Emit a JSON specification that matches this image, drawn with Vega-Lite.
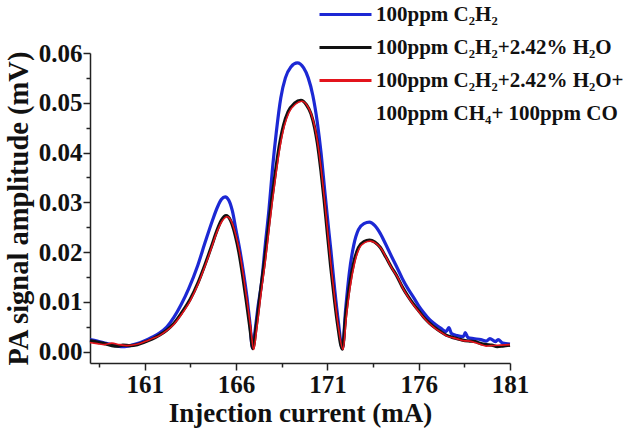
{
  "$schema": "https://vega.github.io/schema/vega-lite/v6.json",
  "width": 420,
  "height": 310,
  "autosize": {"type": "none"},
  "padding": {"left": 90, "top": 53, "right": 113, "bottom": 71},
  "background": "white",
  "config": {"view": {"stroke": null}},
  "data": {"values": [
    {"I":158.0,"v":0.0024,"s":"a"},{"I":158.4,"v":0.0021,"s":"a"},{"I":158.8,"v":0.0017,"s":"a"},{"I":159.2,"v":0.0014,"s":"a"},{"I":159.5,"v":0.0011,"s":"a"},{"I":159.9,"v":0.0010,"s":"a"},{"I":160.2,"v":0.0012,"s":"a"},{"I":160.5,"v":0.0015,"s":"a"},{"I":161.0,"v":0.0022,"s":"a"},{"I":161.4,"v":0.0029,"s":"a"},{"I":161.8,"v":0.0037,"s":"a"},{"I":162.2,"v":0.0049,"s":"a"},{"I":162.6,"v":0.0069,"s":"a"},{"I":163.0,"v":0.0095,"s":"a"},{"I":163.4,"v":0.0126,"s":"a"},{"I":163.9,"v":0.0173,"s":"a"},{"I":164.3,"v":0.0219,"s":"a"},{"I":164.7,"v":0.0263,"s":"a"},{"I":165.0,"v":0.0292,"s":"a"},{"I":165.2,"v":0.0306,"s":"a"},{"I":165.4,"v":0.0311,"s":"a"},{"I":165.6,"v":0.0304,"s":"a"},{"I":165.8,"v":0.0282,"s":"a"},{"I":166.0,"v":0.0243,"s":"a"},{"I":166.2,"v":0.0205,"s":"a"},{"I":166.4,"v":0.0160,"s":"a"},{"I":166.6,"v":0.0108,"s":"a"},{"I":166.75,"v":0.0060,"s":"a"},{"I":166.9,"v":0.0007,"s":"a"},{"I":167.05,"v":0.0045,"s":"a"},{"I":167.2,"v":0.0090,"s":"a"},{"I":167.4,"v":0.0140,"s":"a"},{"I":167.6,"v":0.0215,"s":"a"},{"I":167.8,"v":0.0285,"s":"a"},{"I":168.0,"v":0.0370,"s":"a"},{"I":168.2,"v":0.0440,"s":"a"},{"I":168.45,"v":0.0510,"s":"a"},{"I":168.7,"v":0.0550,"s":"a"},{"I":169.0,"v":0.0572,"s":"a"},{"I":169.35,"v":0.0580,"s":"a"},{"I":169.7,"v":0.0570,"s":"a"},{"I":169.95,"v":0.0550,"s":"a"},{"I":170.2,"v":0.0515,"s":"a"},{"I":170.45,"v":0.0460,"s":"a"},{"I":170.65,"v":0.0400,"s":"a"},{"I":170.85,"v":0.0325,"s":"a"},{"I":171.0,"v":0.0270,"s":"a"},{"I":171.2,"v":0.0200,"s":"a"},{"I":171.4,"v":0.0125,"s":"a"},{"I":171.6,"v":0.0060,"s":"a"},{"I":171.82,"v":0.0006,"s":"a"},{"I":172.0,"v":0.0085,"s":"a"},{"I":172.2,"v":0.0158,"s":"a"},{"I":172.45,"v":0.0215,"s":"a"},{"I":172.7,"v":0.0245,"s":"a"},{"I":173.0,"v":0.0257,"s":"a"},{"I":173.3,"v":0.0260,"s":"a"},{"I":173.6,"v":0.0253,"s":"a"},{"I":173.9,"v":0.0237,"s":"a"},{"I":174.2,"v":0.0215,"s":"a"},{"I":174.5,"v":0.0192,"s":"a"},{"I":174.8,"v":0.0170,"s":"a"},{"I":175.1,"v":0.0147,"s":"a"},{"I":175.4,"v":0.0127,"s":"a"},{"I":175.7,"v":0.0110,"s":"a"},{"I":176.0,"v":0.0092,"s":"a"},{"I":176.3,"v":0.0077,"s":"a"},{"I":176.6,"v":0.0064,"s":"a"},{"I":176.9,"v":0.0055,"s":"a"},{"I":177.2,"v":0.0047,"s":"a"},{"I":177.5,"v":0.0040,"s":"a"},{"I":177.65,"v":0.0048,"s":"a"},{"I":177.8,"v":0.0036,"s":"a"},{"I":178.1,"v":0.0032,"s":"a"},{"I":178.45,"v":0.0030,"s":"a"},{"I":178.55,"v":0.0038,"s":"a"},{"I":178.7,"v":0.0028,"s":"a"},{"I":179.0,"v":0.0026,"s":"a"},{"I":179.4,"v":0.0024,"s":"a"},{"I":179.7,"v":0.0021,"s":"a"},{"I":179.9,"v":0.0026,"s":"a"},{"I":180.2,"v":0.0020,"s":"a"},{"I":180.35,"v":0.0024,"s":"a"},{"I":180.6,"v":0.0017,"s":"a"},{"I":181.0,"v":0.0015,"s":"a"},

    {"I":158.0,"v":0.0022,"s":"b"},{"I":158.4,"v":0.0019,"s":"b"},{"I":158.8,"v":0.0016,"s":"b"},{"I":159.2,"v":0.0012,"s":"b"},{"I":159.5,"v":0.0011,"s":"b"},{"I":159.8,"v":0.0013,"s":"b"},{"I":160.2,"v":0.0012,"s":"b"},{"I":160.6,"v":0.0014,"s":"b"},{"I":161.0,"v":0.0019,"s":"b"},{"I":161.4,"v":0.0025,"s":"b"},{"I":161.8,"v":0.0033,"s":"b"},{"I":162.2,"v":0.0043,"s":"b"},{"I":162.6,"v":0.0057,"s":"b"},{"I":163.0,"v":0.0077,"s":"b"},{"I":163.5,"v":0.0106,"s":"b"},{"I":163.9,"v":0.0137,"s":"b"},{"I":164.3,"v":0.0175,"s":"b"},{"I":164.65,"v":0.0211,"s":"b"},{"I":164.95,"v":0.0243,"s":"b"},{"I":165.2,"v":0.0264,"s":"b"},{"I":165.45,"v":0.0273,"s":"b"},{"I":165.7,"v":0.0263,"s":"b"},{"I":165.95,"v":0.0234,"s":"b"},{"I":166.15,"v":0.0200,"s":"b"},{"I":166.35,"v":0.0155,"s":"b"},{"I":166.55,"v":0.0104,"s":"b"},{"I":166.75,"v":0.0050,"s":"b"},{"I":166.92,"v":0.0006,"s":"b"},{"I":167.1,"v":0.0050,"s":"b"},{"I":167.35,"v":0.0125,"s":"b"},{"I":167.55,"v":0.0180,"s":"b"},{"I":167.75,"v":0.0243,"s":"b"},{"I":167.95,"v":0.0305,"s":"b"},{"I":168.15,"v":0.0360,"s":"b"},{"I":168.35,"v":0.0410,"s":"b"},{"I":168.6,"v":0.0455,"s":"b"},{"I":168.85,"v":0.0482,"s":"b"},{"I":169.2,"v":0.0499,"s":"b"},{"I":169.55,"v":0.0505,"s":"b"},{"I":169.85,"v":0.0496,"s":"b"},{"I":170.1,"v":0.0478,"s":"b"},{"I":170.3,"v":0.0450,"s":"b"},{"I":170.45,"v":0.0419,"s":"b"},{"I":170.65,"v":0.0362,"s":"b"},{"I":170.82,"v":0.0305,"s":"b"},{"I":171.0,"v":0.0237,"s":"b"},{"I":171.18,"v":0.0171,"s":"b"},{"I":171.4,"v":0.0100,"s":"b"},{"I":171.55,"v":0.0057,"s":"b"},{"I":171.82,"v":0.0005,"s":"b"},{"I":172.0,"v":0.0072,"s":"b"},{"I":172.2,"v":0.0130,"s":"b"},{"I":172.45,"v":0.0180,"s":"b"},{"I":172.7,"v":0.0209,"s":"b"},{"I":173.0,"v":0.0221,"s":"b"},{"I":173.3,"v":0.0224,"s":"b"},{"I":173.6,"v":0.0220,"s":"b"},{"I":173.9,"v":0.0209,"s":"b"},{"I":174.2,"v":0.0190,"s":"b"},{"I":174.5,"v":0.0170,"s":"b"},{"I":174.8,"v":0.0152,"s":"b"},{"I":175.1,"v":0.0130,"s":"b"},{"I":175.4,"v":0.0112,"s":"b"},{"I":175.7,"v":0.0096,"s":"b"},{"I":176.0,"v":0.0082,"s":"b"},{"I":176.3,"v":0.0068,"s":"b"},{"I":176.6,"v":0.0057,"s":"b"},{"I":176.9,"v":0.0048,"s":"b"},{"I":177.2,"v":0.0040,"s":"b"},{"I":177.5,"v":0.0033,"s":"b"},{"I":177.8,"v":0.0029,"s":"b"},{"I":178.1,"v":0.0026,"s":"b"},{"I":178.4,"v":0.0023,"s":"b"},{"I":178.8,"v":0.0021,"s":"b"},{"I":179.1,"v":0.0020,"s":"b"},{"I":179.4,"v":0.0016,"s":"b"},{"I":179.7,"v":0.0014,"s":"b"},{"I":180.0,"v":0.0013,"s":"b"},{"I":180.3,"v":0.0010,"s":"b"},{"I":180.6,"v":0.0011,"s":"b"},{"I":181.0,"v":0.0013,"s":"b"},

    {"I":158.0,"v":0.0018,"s":"c"},{"I":158.4,"v":0.0016,"s":"c"},{"I":158.8,"v":0.0014,"s":"c"},{"I":159.2,"v":0.0017,"s":"c"},{"I":159.6,"v":0.0014,"s":"c"},{"I":160.0,"v":0.0012,"s":"c"},{"I":160.5,"v":0.0014,"s":"c"},{"I":161.0,"v":0.0020,"s":"c"},{"I":161.4,"v":0.0026,"s":"c"},{"I":161.8,"v":0.0032,"s":"c"},{"I":162.2,"v":0.0042,"s":"c"},{"I":162.6,"v":0.0055,"s":"c"},{"I":163.0,"v":0.0074,"s":"c"},{"I":163.5,"v":0.0103,"s":"c"},{"I":163.9,"v":0.0134,"s":"c"},{"I":164.3,"v":0.0172,"s":"c"},{"I":164.65,"v":0.0208,"s":"c"},{"I":164.95,"v":0.0240,"s":"c"},{"I":165.25,"v":0.0263,"s":"c"},{"I":165.5,"v":0.0271,"s":"c"},{"I":165.75,"v":0.0261,"s":"c"},{"I":166.0,"v":0.0232,"s":"c"},{"I":166.2,"v":0.0198,"s":"c"},{"I":166.4,"v":0.0153,"s":"c"},{"I":166.6,"v":0.0102,"s":"c"},{"I":166.8,"v":0.0048,"s":"c"},{"I":166.96,"v":0.0004,"s":"c"},{"I":167.14,"v":0.0048,"s":"c"},{"I":167.39,"v":0.0123,"s":"c"},{"I":167.59,"v":0.0178,"s":"c"},{"I":167.79,"v":0.0241,"s":"c"},{"I":167.99,"v":0.0303,"s":"c"},{"I":168.19,"v":0.0358,"s":"c"},{"I":168.39,"v":0.0408,"s":"c"},{"I":168.64,"v":0.0453,"s":"c"},{"I":168.89,"v":0.0480,"s":"c"},{"I":169.25,"v":0.0497,"s":"c"},{"I":169.6,"v":0.0503,"s":"c"},{"I":169.9,"v":0.0494,"s":"c"},{"I":170.13,"v":0.0476,"s":"c"},{"I":170.33,"v":0.0448,"s":"c"},{"I":170.48,"v":0.0417,"s":"c"},{"I":170.68,"v":0.0360,"s":"c"},{"I":170.85,"v":0.0303,"s":"c"},{"I":171.03,"v":0.0235,"s":"c"},{"I":171.21,"v":0.0169,"s":"c"},{"I":171.43,"v":0.0098,"s":"c"},{"I":171.58,"v":0.0055,"s":"c"},{"I":171.86,"v":0.0004,"s":"c"},{"I":172.04,"v":0.0070,"s":"c"},{"I":172.24,"v":0.0128,"s":"c"},{"I":172.49,"v":0.0178,"s":"c"},{"I":172.74,"v":0.0207,"s":"c"},{"I":173.04,"v":0.0219,"s":"c"},{"I":173.34,"v":0.0222,"s":"c"},{"I":173.64,"v":0.0218,"s":"c"},{"I":173.94,"v":0.0207,"s":"c"},{"I":174.25,"v":0.0187,"s":"c"},{"I":174.55,"v":0.0166,"s":"c"},{"I":174.85,"v":0.0149,"s":"c"},{"I":175.15,"v":0.0126,"s":"c"},{"I":175.45,"v":0.0108,"s":"c"},{"I":175.75,"v":0.0092,"s":"c"},{"I":176.05,"v":0.0078,"s":"c"},{"I":176.35,"v":0.0065,"s":"c"},{"I":176.65,"v":0.0054,"s":"c"},{"I":176.95,"v":0.0045,"s":"c"},{"I":177.25,"v":0.0038,"s":"c"},{"I":177.55,"v":0.0031,"s":"c"},{"I":177.85,"v":0.0028,"s":"c"},{"I":178.15,"v":0.0025,"s":"c"},{"I":178.45,"v":0.0022,"s":"c"},{"I":178.8,"v":0.0021,"s":"c"},{"I":179.1,"v":0.0018,"s":"c"},{"I":179.4,"v":0.0014,"s":"c"},{"I":179.7,"v":0.0011,"s":"c"},{"I":180.0,"v":0.0012,"s":"c"},{"I":180.5,"v":0.0013,"s":"c"},{"I":181.0,"v":0.0014,"s":"c"}
  ]},
  "encoding": {
    "x": {
      "field": "I", "type": "quantitative",
      "scale": {"domain": [158, 181], "nice": false, "zero": false},
      "axis": {
        "title": "Injection current (mA)",
        "values": [158.5, 161, 163.5, 166, 168.5, 171, 173.5, 176, 178.5, 181],
        "labelExpr": "abs((datum.value - 161) % 5) < 0.01 ? format(datum.value, 'd') : ''",
        "tickSize": {"condition": {"test": "abs((datum.value - 161) % 5) < 0.01", "value": 7}, "value": 4},
        "grid": false,
        "domainColor": "#222222", "domainWidth": 1.5,
        "tickColor": "#222222", "tickWidth": 1.5,
        "labelFont": "Liberation Serif", "labelFontWeight": "bold", "labelFontSize": 25, "labelColor": "#111111",
        "labelPadding": 2, "labelFlush": false, "labelOverlap": false,
        "titleFont": "Liberation Serif", "titleFontWeight": "bold", "titleFontSize": 27, "titleColor": "#111111",
        "titlePadding": 3
      }
    },
    "y": {
      "field": "v", "type": "quantitative",
      "scale": {"domain": [-0.0023, 0.06], "nice": false, "zero": false},
      "axis": {
        "title": "PA signal amplitude (mV)",
        "values": [0, 0.005, 0.01, 0.015, 0.02, 0.025, 0.03, 0.035, 0.04, 0.045, 0.05, 0.055, 0.06],
        "labelExpr": "abs(datum.value*100 - round(datum.value*100)) < 0.01 ? format(datum.value, '.2f') : ''",
        "tickSize": {"condition": {"test": "abs(datum.value*100 - round(datum.value*100)) < 0.01", "value": 7}, "value": 4},
        "grid": false,
        "domainColor": "#222222", "domainWidth": 1.5,
        "tickColor": "#222222", "tickWidth": 1.5,
        "labelFont": "Liberation Serif", "labelFontWeight": "bold", "labelFontSize": 25, "labelColor": "#111111",
        "labelPadding": 1, "labelFlush": false, "labelOverlap": false,
        "titleFont": "Liberation Serif", "titleFontWeight": "bold", "titleFontSize": 28.5, "titleColor": "#111111",
        "titlePadding": 5
      }
    },
    "color": {
      "field": "s", "type": "nominal",
      "scale": {"domain": ["a", "b", "c", "d"], "range": ["#1c28d4", "#111111", "#e3141c", "transparent"]},
      "legend": {
        "title": null,
        "orient": "none",
        "legendX": 228,
        "legendY": -55,
        "padding": 0,
        "symbolType": "stroke",
        "symbolSize": 2704,
        "symbolStrokeWidth": 3,
        "clipHeight": 33,
        "rowPadding": 0,
        "labelOffset": 3,
        "labelLimit": 400,
        "labelFont": "Liberation Serif", "labelFontWeight": "bold", "labelFontSize": 21, "labelColor": "#111111",
        "labelExpr": "{'a': '100ppm C₂H₂', 'b': '100ppm C₂H₂+2.42% H₂O', 'c': '100ppm C₂H₂+2.42% H₂O+', 'd': '100ppm CH₄+ 100ppm CO'}[datum.value]"
      }
    }
  },
  "layer": [
    {"transform": [{"filter": "datum.s == 'a'"}], "mark": {"type": "line", "strokeWidth": 3.2, "interpolate": "monotone"}},
    {"transform": [{"filter": "datum.s == 'b'"}], "mark": {"type": "line", "strokeWidth": 3.2, "interpolate": "monotone"}},
    {"transform": [{"filter": "datum.s == 'c'"}], "mark": {"type": "line", "strokeWidth": 1.6, "interpolate": "monotone"}}
  ]
}
